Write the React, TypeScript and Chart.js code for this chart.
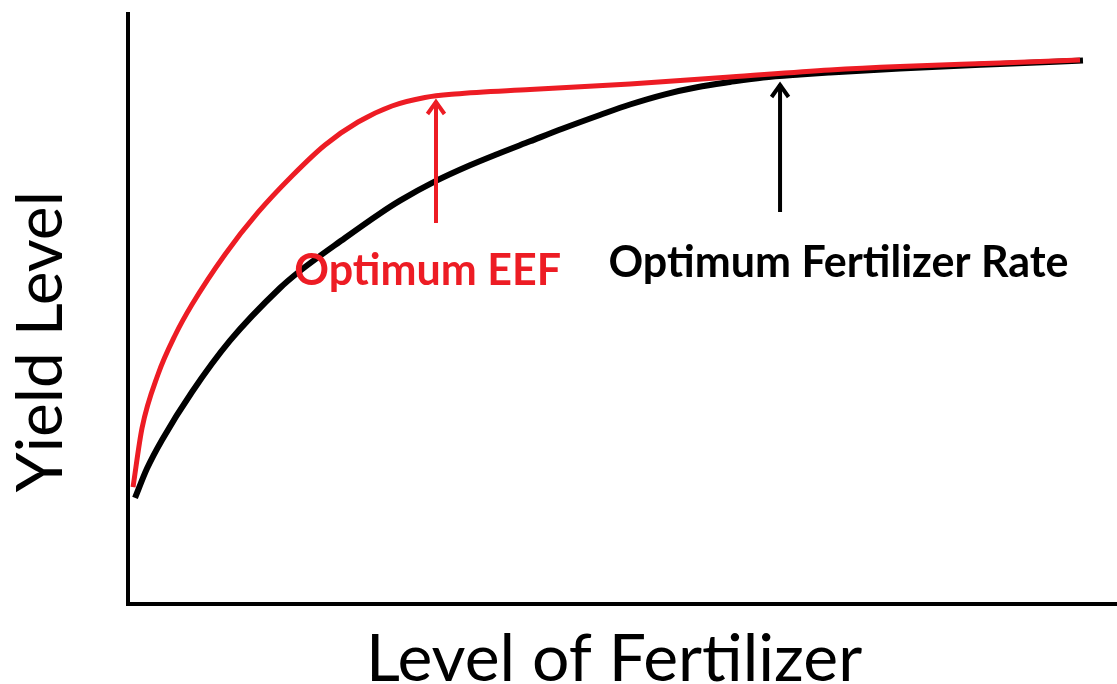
import React, { useEffect, useRef } from "react";
import { Chart, registerables } from "chart.js";

Chart.register(...registerables);

// Fertilizer level (x) and yield level (y) for the EEF curve (red)
const eefX = [0.51, 1.42, 3.03, 4.75, 6.47, 9.81, 13.14, 16.58, 19.92, 23.26, 26.69, 30.03, 33.06, 40.65, 50.76, 60.87, 70.98, 78.06, 88.17, 96.26];
const eefY = [19.83, 29.83, 38.9, 45.51, 50.76, 59.25, 66.36, 72.54, 77.8, 81.69, 84.41, 85.85, 86.44, 87.2, 88.14, 89.32, 90.51, 91.1, 91.69, 92.2];

// Fertilizer level (x) and yield level (y) for the standard fertilizer curve (black)
const stdX = [0.71, 1.92, 3.44, 6.47, 10.31, 15.37, 17.19, 21.94, 25.48, 27.5, 31.14, 34.58, 37.31, 40.65, 43.98, 47.72, 50.76, 54.3, 57.53, 60.87, 64.21, 67.95, 70.98, 78.06, 88.17, 96.56];
const stdY = [17.97, 22.95, 27.8, 35.93, 44.63, 53.56, 56.19, 62.03, 66.19, 68.36, 71.71, 74.36, 76.24, 78.42, 80.59, 82.88, 84.66, 86.39, 87.58, 88.47, 89.24, 89.75, 90.08, 90.76, 91.53, 92.12];

// Optimum markers (arrows + labels), in data units
const markerLabels = ["Optimum EEF", "Optimum Fertilizer Rate"];
const markerColors = ["#ED1C24", "#000000"];
const markerX = [31.14, 65.93];
const markerTailY = [64.58, 66.44];
const markerTipY = [85.42, 88.31];
const labelX = [30.3, 71.84];
const labelY = [54.07, 55.42];

const xTitle = "Level of Fertilizer";
const yTitle = "Yield Level";

const markersPlugin = {
  id: "markers",
  afterDatasetsDraw(chart: any) {
    const { ctx, scales } = chart;
    const xs = scales.x;
    const ys = scales.y;
    ctx.save();
    for (let i = 0; i < markerLabels.length; i++) {
      const color = markerColors[i];
      const px = xs.getPixelForValue(markerX[i]);
      const tail = ys.getPixelForValue(markerTailY[i]);
      const tip = ys.getPixelForValue(markerTipY[i]);
      ctx.strokeStyle = color;
      ctx.lineWidth = 4;
      ctx.lineCap = "butt";
      ctx.beginPath();
      ctx.moveTo(px, tail);
      ctx.lineTo(px, tip + 1);
      ctx.stroke();
      ctx.lineJoin = "miter";
      ctx.beginPath();
      ctx.moveTo(px - 8.5, tip + 14);
      ctx.lineTo(px, tip + 2);
      ctx.lineTo(px + 8.5, tip + 14);
      ctx.stroke();

      ctx.fillStyle = color;
      ctx.font = "bold 43px Lato";
      ctx.textAlign = "center";
      ctx.textBaseline = "alphabetic";
      ctx.fillText(markerLabels[i], xs.getPixelForValue(labelX[i]), ys.getPixelForValue(labelY[i]));
    }
    ctx.restore();
  },
};

export default function App() {
  const canvasRef = useRef<HTMLCanvasElement | null>(null);

  useEffect(() => {
    const canvas = canvasRef.current;
    if (!canvas) return;
    const chart = new Chart(canvas, {
      type: "line",
      data: {
        datasets: [
          {
            label: "EEF",
            data: eefX.map((x, i) => ({ x, y: eefY[i] })),
            borderColor: "#ED1C24",
            borderWidth: 5,
            pointRadius: 0,
            cubicInterpolationMode: "monotone",
            fill: false,
            order: 0,
          },
          {
            label: "Standard fertilizer",
            data: stdX.map((x, i) => ({ x, y: stdY[i] })),
            borderColor: "#000000",
            borderWidth: 6,
            pointRadius: 0,
            cubicInterpolationMode: "monotone",
            fill: false,
            order: 1,
          },
        ],
      },
      options: {
        responsive: false,
        animation: false,
        layout: { padding: { top: 14, right: 0, left: 0, bottom: 0 } },
        plugins: {
          legend: { display: false },
          tooltip: { enabled: false },
        },
        scales: {
          x: {
            type: "linear",
            min: 0,
            max: 100,
            grid: { display: false },
            ticks: { display: false },
            border: { display: true, color: "#000000", width: 4 },
            title: {
              display: true,
              text: xTitle + " ",
              color: "#000000",
              font: { family: "Lato", size: 66, lineHeight: 0.6 },
              padding: { top: 0, bottom: 4 },
            },
            afterFit: (s: any) => {
              s.height = 80;
            },
          },
          y: {
            type: "linear",
            min: 0,
            max: 100,
            grid: { display: false },
            ticks: { display: false },
            border: { display: true, color: "#000000", width: 4 },
            title: {
              display: true,
              text: yTitle + "    ",
              color: "#000000",
              font: { family: "Lato", size: 64, lineHeight: 1.2 },
              padding: { top: 3, bottom: 0 },
            },
            afterFit: (s: any) => {
              s.width = 128;
            },
          },
        },
      },
      plugins: [markersPlugin],
    });
    return () => chart.destroy();
  }, []);

  return (
    <div style={{ position: "absolute", left: 0, top: 0, width: 1117, height: 684, background: "#ffffff" }}>
      <canvas ref={canvasRef} width={1117} height={684} style={{ display: "block" }} />
    </div>
  );
}
